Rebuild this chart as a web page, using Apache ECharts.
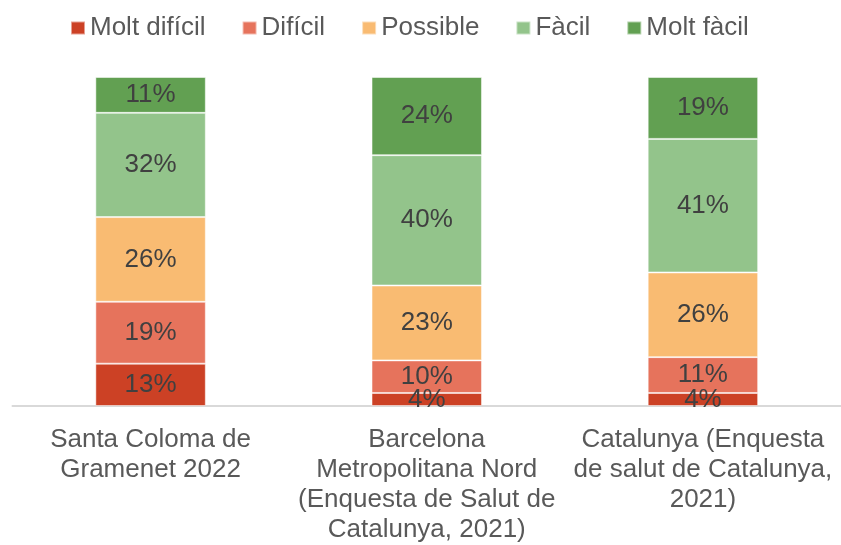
<!DOCTYPE html>
<html>
<head>
<meta charset="utf-8">
<script src="https://cdn.jsdelivr.net/npm/echarts@6/dist/echarts.min.js"></script>
<style>
  html, body { margin: 0; padding: 0; background: #fff; }
  #main { width: 841px; height: 545px; }
</style>
</head>
<body>
<div id="main"></div>
<script>
// categories (x axis)
var categories = [
  'Santa Coloma de\nGramenet 2022',
  'Barcelona\nMetropolitana Nord\n(Enquesta de Salut de\nCatalunya, 2021)',
  'Catalunya (Enquesta\nde salut de Catalunya,\n2021)'
];

// series names, bottom to top
var seriesNames = ['Molt difícil', 'Difícil', 'Possible', 'Fàcil', 'Molt fàcil'];
var seriesColors = ['#CC4125', '#E6735C', '#F9BB72', '#93C48B', '#62A052'];

// percentages per category
var moltDificil = [13, 4, 4];
var dificil = [19, 10, 11];
var possible = [26, 23, 26];
var facil = [32, 40, 41];
var moltFacil = [11, 24, 19];

var values = [moltDificil, dificil, possible, facil, moltFacil];

var series = seriesNames.map(function (name, i) {
  return {
    name: name,
    type: 'bar',
    stack: 'total',
    barWidth: '40%',
    data: values[i],
    itemStyle: {
      color: seriesColors[i],
      borderColor: 'rgba(255,255,255,0.5)',
      borderWidth: 1
    },
    label: {
      show: true,
      position: 'inside',
      formatter: '{c}%',
      color: '#404040',
      fontSize: 26,
      fontFamily: 'Liberation Sans'
    }
  };
});

var myChart = echarts.init(document.getElementById('main'));
myChart.setOption({
  backgroundColor: '#fff',
  animation: false,
  legend: {
    left: 65,
    top: 10,
    itemWidth: 14,
    itemHeight: 13,
    itemGap: 36,
    icon: 'rect',
    textStyle: {
      color: '#595959',
      fontSize: 26,
      fontFamily: 'Liberation Sans'
    },
    data: seriesNames
  },
  grid: {
    left: 12.5,
    width: 834,
    top: 77,
    bottom: 135
  },
  xAxis: {
    type: 'category',
    data: categories,
    axisTick: { show: false },
    axisLine: { lineStyle: { color: '#D9D9D9', width: 2 } },
    axisLabel: {
      interval: 0,
      margin: 19,
      color: '#595959',
      fontSize: 26,
      lineHeight: 30,
      fontFamily: 'Liberation Sans'
    }
  },
  yAxis: {
    type: 'value',
    min: 0,
    max: 101,
    show: false,
    splitLine: { show: false }
  },
  series: series
});
</script>
</body>
</html>
